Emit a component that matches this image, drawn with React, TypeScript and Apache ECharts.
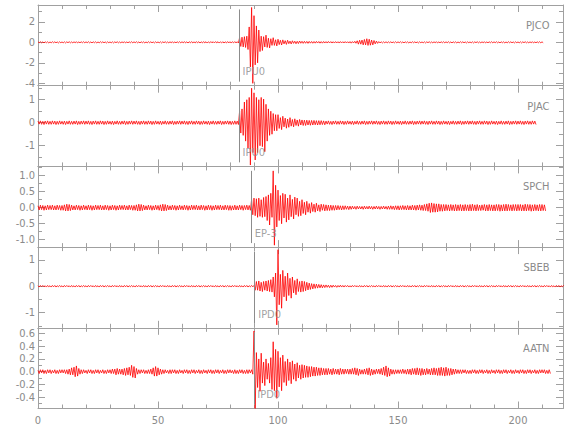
import React, { useEffect, useRef } from "react";
import * as echarts from "echarts";

// ---------- data (samples every 0.5 s, read from the record) ----------
const STATIONS = ["PJCO", "PJAC", "SPCH", "SBEB", "AATN"];
const SAMPLE_STEP = 0.5; // seconds between samples

const PJCO = [
  0.05, -0.04, 0.06, -0.05, 0.04, -0.06, 0.05, -0.04, 0.05, -0.06, 0.04, -0.05, 0.06, -0.04, 0.05, -0.05, 0.04, -0.06, 0.05, -0.04,
  0.04, -0.05, 0.05, -0.06, 0.05, -0.04, 0.06, -0.05, 0.04, -0.05, 0.05, -0.04, 0.06, -0.06, 0.04, -0.05, 0.05, -0.04, 0.06, -0.05,
  0.05, -0.04, 0.06, -0.05, 0.04, -0.06, 0.05, -0.04, 0.05, -0.06, 0.04, -0.05, 0.06, -0.04, 0.05, -0.05, 0.04, -0.06, 0.05, -0.04,
  0.04, -0.05, 0.05, -0.06, 0.05, -0.04, 0.06, -0.05, 0.04, -0.05, 0.05, -0.04, 0.06, -0.06, 0.04, -0.05, 0.05, -0.04, 0.06, -0.05,
  0.05, -0.04, 0.06, -0.05, 0.04, -0.06, 0.05, -0.04, 0.05, -0.06, 0.04, -0.05, 0.06, -0.04, 0.05, -0.05, 0.04, -0.06, 0.05, -0.04,
  0.04, -0.05, 0.05, -0.06, 0.05, -0.04, 0.06, -0.05, 0.04, -0.05, 0.05, -0.04, 0.06, -0.06, 0.04, -0.05, 0.05, -0.04, 0.06, -0.05,
  0.06, -0.05, 0.07, -0.06, 0.05, -0.07, 0.06, -0.05, 0.07, -0.06, 0.05, -0.06, 0.07, -0.05, 0.06, -0.07, 0.05, -0.06, 0.07, -0.05,
  0.06, -0.07, 0.05, -0.06, 0.07, -0.05, 0.06, -0.06, 0.07, -0.05, 0.06, -0.07, 0.05, -0.06, 0.06, -0.07, 0.05, -0.06, 0.07, -0.06,
  0.06, -0.07, 0.06, -0.05, 0.07, -0.06, 0.06, -0.07, 0.45, -0.4, 0.5, -0.45, 0.55, -0.5, 0.6, -0.7, 1.5, -2.4, 3.4, -4.0,
  2.6, -2.2, 1.6, -2.0, 1.2, -0.9, 0.6, -0.8, 0.55, -0.45, 0.7, -0.5, 0.4, -0.55, 0.35, -0.3, 0.45, -0.3, 0.25, -0.35,
  0.3, -0.22, 0.2, -0.26, 0.24, -0.15, 0.16, -0.2, 0.2, -0.13, 0.12, -0.16, 0.15, -0.1, 0.11, -0.14, 0.1, -0.12, 0.13, -0.09,
  0.1, -0.1, 0.1, -0.09, 0.09, -0.1, 0.09, -0.08, 0.08, -0.09, 0.08, -0.08, 0.09, -0.07, 0.08, -0.08, 0.07, -0.08, 0.08, -0.07,
  0.07, -0.07, 0.08, -0.06, 0.07, -0.07, 0.06, -0.07, 0.07, -0.06, 0.06, -0.07, 0.07, -0.06, 0.06, -0.06, 0.07, -0.06, 0.06, -0.07,
  0.07, -0.08, 0.07, -0.06, 0.1, -0.09, 0.15, -0.18, 0.2, -0.18, 0.22, -0.25, 0.28, -0.25, 0.35, -0.3, 0.3, -0.28, 0.22, -0.25,
  0.18, -0.15, 0.12, -0.1, 0.07, -0.06, 0.05, -0.06, 0.05, -0.05, 0.06, -0.05, 0.05, -0.04, 0.05, -0.05, 0.04, -0.05, 0.06, -0.05,
  0.05, -0.04, 0.06, -0.05, 0.04, -0.06, 0.05, -0.04, 0.05, -0.06, 0.04, -0.05, 0.06, -0.04, 0.05, -0.05, 0.04, -0.06, 0.05, -0.04,
  0.04, -0.05, 0.05, -0.06, 0.05, -0.04, 0.06, -0.05, 0.04, -0.05, 0.05, -0.04, 0.06, -0.06, 0.04, -0.05, 0.05, -0.04, 0.06, -0.05,
  0.05, -0.04, 0.06, -0.05, 0.04, -0.06, 0.05, -0.04, 0.05, -0.06, 0.04, -0.05, 0.06, -0.04, 0.05, -0.05, 0.04, -0.06, 0.05, -0.04,
  0.04, -0.05, 0.05, -0.06, 0.05, -0.04, 0.06, -0.05, 0.04, -0.05, 0.05, -0.04, 0.06, -0.06, 0.04, -0.05, 0.05, -0.04, 0.06, -0.05,
  0.05, -0.04, 0.06, -0.05, 0.04, -0.06, 0.05, -0.04, 0.05, -0.06, 0.04, -0.05, 0.06, -0.04, 0.05, -0.05, 0.04, -0.06, 0.05, -0.04,
  0.04, -0.05, 0.05, -0.06, 0.05, -0.04, 0.06, -0.05, 0.04, -0.05, 0.05, -0.04, 0.06, -0.06, 0.04, -0.05, 0.05, -0.04, 0.06, -0.05,
  0.05, -0.04,
];

const PJAC = [
  0.07, -0.06, 0.08, -0.07, 0.06, -0.08, 0.07, -0.06, 0.08, -0.07, 0.06, -0.07, 0.08, -0.06, 0.07, -0.08, 0.06, -0.07, 0.08, -0.06,
  0.06, -0.07, 0.07, -0.08, 0.06, -0.06, 0.08, -0.07, 0.06, -0.07, 0.07, -0.06, 0.08, -0.08, 0.06, -0.07, 0.07, -0.06, 0.08, -0.07,
  0.07, -0.06, 0.08, -0.07, 0.06, -0.08, 0.07, -0.06, 0.08, -0.07, 0.06, -0.07, 0.08, -0.06, 0.07, -0.08, 0.06, -0.07, 0.08, -0.06,
  0.06, -0.07, 0.07, -0.08, 0.06, -0.06, 0.08, -0.07, 0.06, -0.07, 0.07, -0.06, 0.08, -0.08, 0.06, -0.07, 0.07, -0.06, 0.08, -0.07,
  0.07, -0.06, 0.08, -0.07, 0.06, -0.08, 0.07, -0.06, 0.08, -0.07, 0.06, -0.07, 0.08, -0.06, 0.07, -0.08, 0.06, -0.07, 0.08, -0.06,
  0.06, -0.07, 0.07, -0.08, 0.06, -0.06, 0.08, -0.07, 0.06, -0.07, 0.07, -0.06, 0.08, -0.08, 0.06, -0.07, 0.07, -0.06, 0.08, -0.07,
  0.07, -0.06, 0.08, -0.07, 0.06, -0.08, 0.07, -0.06, 0.08, -0.07, 0.06, -0.07, 0.08, -0.06, 0.07, -0.08, 0.06, -0.07, 0.08, -0.06,
  0.06, -0.07, 0.07, -0.08, 0.06, -0.06, 0.08, -0.07, 0.06, -0.07, 0.07, -0.06, 0.08, -0.08, 0.06, -0.07, 0.07, -0.06, 0.08, -0.07,
  0.07, -0.08, 0.06, -0.07, 0.08, -0.07, 0.07, -0.08, 0.5, -0.45, 0.6, -0.55, 0.9, -0.8, 1.0, -1.1, 1.1, -1.84, 1.5, -1.3,
  1.3, -1.62, 1.1, -1.3, 1.0, -1.0, 1.1, -1.04, 1.03, -1.26, 0.8, -0.8, 0.6, -0.55, 0.5, -0.5, 0.4, -0.35, 0.35, -0.35,
  0.35, -0.25, 0.22, -0.3, 0.28, -0.18, 0.2, -0.24, 0.16, -0.2, 0.22, -0.15, 0.14, -0.18, 0.17, -0.12, 0.12, -0.15, 0.14, -0.1,
  0.12, -0.12, 0.11, -0.12, 0.11, -0.1, 0.1, -0.11, 0.1, -0.1, 0.1, -0.09, 0.09, -0.1, 0.09, -0.09, 0.09, -0.08, 0.08, -0.09,
  0.07, -0.06, 0.08, -0.07, 0.06, -0.08, 0.07, -0.06, 0.08, -0.07, 0.06, -0.07, 0.08, -0.06, 0.07, -0.08, 0.06, -0.07, 0.08, -0.06,
  0.06, -0.07, 0.07, -0.08, 0.06, -0.06, 0.08, -0.07, 0.06, -0.07, 0.07, -0.06, 0.08, -0.08, 0.06, -0.07, 0.07, -0.06, 0.08, -0.07,
  0.07, -0.06, 0.08, -0.07, 0.06, -0.08, 0.07, -0.06, 0.08, -0.07, 0.06, -0.07, 0.08, -0.06, 0.07, -0.08, 0.06, -0.07, 0.08, -0.06,
  0.06, -0.07, 0.07, -0.08, 0.06, -0.06, 0.08, -0.07, 0.06, -0.07, 0.07, -0.06, 0.08, -0.08, 0.06, -0.07, 0.07, -0.06, 0.08, -0.07,
  0.07, -0.06, 0.08, -0.07, 0.06, -0.08, 0.07, -0.06, 0.08, -0.07, 0.06, -0.07, 0.08, -0.06, 0.07, -0.08, 0.06, -0.07, 0.08, -0.06,
  0.06, -0.07, 0.07, -0.08, 0.06, -0.06, 0.08, -0.07, 0.06, -0.07, 0.07, -0.06, 0.08, -0.08, 0.06, -0.07, 0.07, -0.06, 0.08, -0.07,
  0.07, -0.06, 0.08, -0.07, 0.06, -0.08, 0.07, -0.06, 0.08, -0.07, 0.06, -0.07, 0.08, -0.06, 0.07, -0.08, 0.06, -0.07, 0.08, -0.06,
  0.06, -0.07, 0.07, -0.08, 0.06, -0.06, 0.08, -0.07, 0.06, -0.07, 0.07, -0.06, 0.08, -0.08, 0.06, -0.07, 0.07, -0.06, 0.08, -0.07,
  0.07, -0.06, 0.08, -0.07, 0.06, -0.08, 0.07, -0.06, 0.08, -0.07, 0.06, -0.07, 0.08, -0.06, 0.07, -0.08,
];

const SPCH = [
  0.06, -0.07, 0.08, -0.06, 0.07, -0.08, 0.06, -0.07, 0.08, -0.06, 0.07, -0.06, 0.08, -0.07, 0.06, -0.07, 0.08, -0.06, 0.07, -0.08,
  0.07, -0.08, 0.09, -0.1, 0.11, -0.1, 0.1, -0.09, 0.08, -0.07, 0.06, -0.07, 0.08, -0.06, 0.07, -0.08, 0.06, -0.07, 0.08, -0.06,
  0.06, -0.07, 0.08, -0.06, 0.07, -0.08, 0.06, -0.07, 0.08, -0.06, 0.07, -0.06, 0.08, -0.07, 0.06, -0.07, 0.08, -0.06, 0.07, -0.08,
  0.06, -0.07, 0.08, -0.06, 0.07, -0.08, 0.06, -0.07, 0.08, -0.06, 0.07, -0.06, 0.08, -0.07, 0.06, -0.07, 0.08, -0.06, 0.07, -0.08,
  0.07, -0.08, 0.09, -0.1, 0.11, -0.1, 0.1, -0.09, 0.08, -0.07, 0.06, -0.07, 0.08, -0.06, 0.07, -0.08, 0.06, -0.07, 0.08, -0.06,
  0.07, -0.08, 0.09, -0.1, 0.11, -0.1, 0.1, -0.09, 0.08, -0.07, 0.06, -0.07, 0.08, -0.06, 0.07, -0.08, 0.06, -0.07, 0.08, -0.06,
  0.06, -0.07, 0.08, -0.06, 0.07, -0.08, 0.06, -0.07, 0.08, -0.06, 0.07, -0.06, 0.08, -0.07, 0.06, -0.07, 0.08, -0.06, 0.07, -0.08,
  0.06, -0.07, 0.08, -0.06, 0.07, -0.08, 0.06, -0.07, 0.08, -0.06, 0.07, -0.06, 0.08, -0.07, 0.06, -0.07, 0.08, -0.06, 0.07, -0.08,
  0.07, -0.08, 0.06, -0.07, 0.08, -0.07, 0.06, -0.07, 0.08, -0.06, 0.07, -0.08, 0.07, -0.06, 0.08, -0.07, 0.07, -0.08, 0.25, -0.22,
  0.3, -0.25, 0.28, -0.3, 0.3, -0.27, 0.25, -0.3, 0.32, -0.28, 0.35, -0.4, 0.4, -0.54, 0.45, -0.3, 1.15, -1.17, 0.7, -0.6,
  0.55, -0.4, 0.38, -0.5, 0.45, -0.32, 0.42, -0.45, 0.3, -0.38, 0.4, -0.28, 0.26, -0.35, 0.33, -0.22, 0.3, -0.27, 0.2, -0.25,
  0.25, -0.18, 0.17, -0.22, 0.2, -0.14, 0.13, -0.17, 0.16, -0.12, 0.11, -0.14, 0.14, -0.1, 0.09, -0.12, 0.11, -0.08, 0.1, -0.1,
  0.09, -0.09, 0.08, -0.09, 0.08, -0.08, 0.07, -0.08, 0.07, -0.07, 0.07, -0.06, 0.06, -0.07, 0.06, -0.06, 0.06, -0.05, 0.05, -0.06,
  0.05, -0.05, 0.05, -0.04, 0.04, -0.05, 0.05, -0.04, 0.04, -0.04, 0.04, -0.05, 0.05, -0.04, 0.04, -0.04, 0.05, -0.04, 0.04, -0.05,
  0.04, -0.04, 0.05, -0.04, 0.04, -0.05, 0.04, -0.04, 0.05, -0.04, 0.04, -0.05, 0.05, -0.05, 0.06, -0.05, 0.05, -0.06, 0.06, -0.06,
  0.06, -0.07, 0.06, -0.06, 0.07, -0.06, 0.06, -0.07, 0.07, -0.07, 0.06, -0.07, 0.08, -0.07, 0.07, -0.08, 0.08, -0.07, 0.09, -0.08,
  0.08, -0.09, 0.1, -0.09, 0.12, -0.11, 0.14, -0.15, 0.15, -0.14, 0.13, -0.14, 0.12, -0.13, 0.12, -0.11, 0.1, -0.11, 0.1, -0.1,
  0.1, -0.09, 0.09, -0.1, 0.1, -0.09, 0.09, -0.1, 0.1, -0.1, 0.09, -0.09, 0.1, -0.1, 0.09, -0.1, 0.1, -0.09, 0.09, -0.1,
  0.1, -0.1, 0.11, -0.09, 0.09, -0.1, 0.1, -0.09, 0.08, -0.09, 0.09, -0.08, 0.1, -0.1, 0.09, -0.1, 0.1, -0.09, 0.09, -0.1,
  0.09, -0.1, 0.1, -0.09, 0.1, -0.11, 0.09, -0.1, 0.1, -0.1, 0.11, -0.1, 0.1, -0.09, 0.09, -0.1, 0.1, -0.09, 0.1, -0.1,
  0.1, -0.09, 0.1, -0.1, 0.09, -0.1, 0.11, -0.1, 0.1, -0.09, 0.1, -0.11, 0.09, -0.1, 0.1, -0.09, 0.09, -0.1, 0.1, -0.1,
  0.1, -0.09, 0.09, -0.1,
];

const SBEB = [
  0.02, -0.03, 0.03, -0.02, 0.03, -0.02, 0.02, -0.03, 0.03, -0.02, 0.02, -0.03, 0.03, -0.02, 0.03, -0.03, 0.02, -0.02, 0.03, -0.02,
  0.02, -0.03, 0.03, -0.02, 0.03, -0.02, 0.02, -0.03, 0.03, -0.02, 0.02, -0.03, 0.03, -0.02, 0.03, -0.03, 0.02, -0.02, 0.03, -0.02,
  0.02, -0.03, 0.03, -0.02, 0.03, -0.02, 0.02, -0.03, 0.03, -0.02, 0.02, -0.03, 0.03, -0.02, 0.03, -0.03, 0.02, -0.02, 0.03, -0.02,
  0.02, -0.03, 0.03, -0.02, 0.03, -0.02, 0.02, -0.03, 0.03, -0.02, 0.02, -0.03, 0.03, -0.02, 0.03, -0.03, 0.02, -0.02, 0.03, -0.02,
  0.02, -0.03, 0.03, -0.02, 0.03, -0.02, 0.02, -0.03, 0.03, -0.02, 0.02, -0.03, 0.03, -0.02, 0.03, -0.03, 0.02, -0.02, 0.03, -0.02,
  0.02, -0.03, 0.03, -0.02, 0.03, -0.02, 0.02, -0.03, 0.03, -0.02, 0.02, -0.03, 0.03, -0.02, 0.03, -0.03, 0.02, -0.02, 0.03, -0.02,
  0.02, -0.03, 0.03, -0.02, 0.03, -0.02, 0.02, -0.03, 0.03, -0.02, 0.02, -0.03, 0.03, -0.02, 0.03, -0.03, 0.02, -0.02, 0.03, -0.02,
  0.02, -0.03, 0.03, -0.02, 0.03, -0.02, 0.02, -0.03, 0.03, -0.02, 0.02, -0.03, 0.03, -0.02, 0.03, -0.03, 0.02, -0.02, 0.03, -0.02,
  0.02, -0.03, 0.03, -0.02, 0.03, -0.02, 0.02, -0.03, 0.03, -0.02, 0.02, -0.03, 0.03, -0.02, 0.03, -0.03, 0.02, -0.02, 0.03, -0.02,
  0.03, -0.15, 0.18, -0.15, 0.2, -0.18, 0.15, -0.2, 0.18, -0.15, 0.2, -0.18, 0.22, -0.2, 0.25, -0.22, 0.35, -0.4, 0.5, -1.46,
  1.38, -0.7, 0.45, -0.83, 0.6, -0.4, 0.38, -0.55, 0.5, -0.35, 0.3, -0.45, 0.35, -0.25, 0.22, -0.32, 0.28, -0.2, 0.18, -0.22,
  0.2, -0.2, 0.18, -0.17, 0.15, -0.14, 0.12, -0.12, 0.1, -0.1, 0.09, -0.08, 0.08, -0.07, 0.07, -0.06, 0.06, -0.06, 0.05, -0.05,
  0.05, -0.04, 0.04, -0.05, 0.04, -0.04, 0.04, -0.03, 0.03, -0.04, 0.03, -0.03, 0.04, -0.03, 0.03, -0.03, 0.03, -0.02, 0.03, -0.03,
  0.02, -0.03, 0.03, -0.02, 0.03, -0.02, 0.02, -0.03, 0.03, -0.02, 0.02, -0.03, 0.03, -0.02, 0.03, -0.03, 0.02, -0.02, 0.03, -0.02,
  0.02, -0.03, 0.03, -0.02, 0.03, -0.02, 0.02, -0.03, 0.03, -0.02, 0.02, -0.03, 0.03, -0.02, 0.03, -0.03, 0.02, -0.02, 0.03, -0.02,
  0.02, -0.03, 0.03, -0.02, 0.03, -0.02, 0.02, -0.03, 0.03, -0.02, 0.02, -0.03, 0.03, -0.02, 0.03, -0.03, 0.02, -0.02, 0.03, -0.02,
  0.02, -0.03, 0.03, -0.02, 0.03, -0.02, 0.02, -0.03, 0.03, -0.02, 0.02, -0.03, 0.03, -0.02, 0.03, -0.03, 0.02, -0.02, 0.03, -0.02,
  0.02, -0.03, 0.03, -0.02, 0.03, -0.02, 0.02, -0.03, 0.03, -0.02, 0.02, -0.03, 0.03, -0.02, 0.03, -0.03, 0.02, -0.02, 0.03, -0.02,
  0.02, -0.03, 0.03, -0.02, 0.03, -0.02, 0.02, -0.03, 0.03, -0.02, 0.02, -0.03, 0.03, -0.02, 0.03, -0.03, 0.02, -0.02, 0.03, -0.02,
  0.02, -0.03, 0.03, -0.02, 0.03, -0.02, 0.02, -0.03, 0.03, -0.02, 0.02, -0.03, 0.03, -0.02, 0.03, -0.03, 0.02, -0.02, 0.03, -0.02,
  0.02, -0.03, 0.03, -0.02, 0.03, -0.02, 0.02, -0.03, 0.03, -0.02, 0.02, -0.03, 0.03, -0.02, 0.03, -0.03, 0.02, -0.02, 0.03, -0.02,
  0.02, -0.03, 0.03, -0.02, 0.03, -0.02, 0.02, -0.03, 0.03, -0.02, 0.02, -0.03, 0.03, -0.02, 0.03, -0.03, 0.02, -0.02, 0.03, -0.02,
];

const AATN = [
  0.02, -0.03, 0.03, -0.02, 0.03, -0.03, 0.02, -0.03, 0.03, -0.02, 0.03, -0.03, 0.02, -0.02, 0.03, -0.03, 0.02, -0.03, 0.03, -0.02,
  0.03, -0.02, 0.03, -0.03, 0.03, -0.04, 0.04, -0.05, 0.06, -0.05, 0.07, -0.08, 0.09, -0.07, 0.05, -0.04, 0.03, -0.03, 0.03, -0.02,
  0.02, -0.03, 0.03, -0.02, 0.03, -0.03, 0.02, -0.03, 0.03, -0.02, 0.03, -0.03, 0.02, -0.02, 0.03, -0.03, 0.02, -0.03, 0.03, -0.02,
  0.03, -0.03, 0.04, -0.03, 0.04, -0.05, 0.05, -0.04, 0.04, -0.04, 0.04, -0.05, 0.05, -0.06, 0.06, -0.05, 0.07, -0.06, 0.1, -0.09,
  0.08, -0.1, 0.05, -0.04, 0.03, -0.03, 0.03, -0.02, 0.03, -0.03, 0.02, -0.03, 0.03, -0.03, 0.04, -0.04, 0.06, -0.07, 0.08, -0.07,
  0.06, -0.05, 0.04, -0.04, 0.03, -0.03, 0.03, -0.02, 0.02, -0.03, 0.03, -0.03, 0.03, -0.02, 0.03, -0.03, 0.02, -0.03, 0.03, -0.02,
  0.02, -0.03, 0.03, -0.02, 0.03, -0.03, 0.02, -0.03, 0.03, -0.02, 0.03, -0.03, 0.02, -0.02, 0.03, -0.03, 0.02, -0.03, 0.03, -0.02,
  0.02, -0.03, 0.03, -0.02, 0.03, -0.03, 0.02, -0.03, 0.03, -0.02, 0.03, -0.03, 0.02, -0.02, 0.03, -0.03, 0.02, -0.03, 0.03, -0.02,
  0.03, -0.02, 0.02, -0.03, 0.03, -0.03, 0.02, -0.03, 0.03, -0.02, 0.03, -0.03, 0.02, -0.03, 0.03, -0.03, 0.03, -0.02, 0.03, -0.04,
  0.64, -0.58, 0.3, -0.25, 0.2, -0.31, 0.29, -0.18, 0.15, -0.22, 0.2, -0.12, 0.13, -0.18, 0.22, -0.28, 0.47, -0.3, 0.35, -0.42,
  0.32, -0.24, 0.22, -0.3, 0.26, -0.17, 0.16, -0.22, 0.2, -0.14, 0.15, -0.19, 0.17, -0.12, 0.12, -0.15, 0.14, -0.1, 0.1, -0.12,
  0.11, -0.1, 0.1, -0.09, 0.09, -0.09, 0.08, -0.08, 0.08, -0.07, 0.07, -0.07, 0.07, -0.06, 0.06, -0.06, 0.06, -0.05, 0.05, -0.05,
  0.05, -0.05, 0.05, -0.04, 0.04, -0.05, 0.05, -0.04, 0.04, -0.04, 0.04, -0.05, 0.05, -0.04, 0.04, -0.04, 0.04, -0.03, 0.04, -0.04,
  0.04, -0.04, 0.05, -0.04, 0.06, -0.05, 0.05, -0.06, 0.04, -0.04, 0.03, -0.04, 0.04, -0.04, 0.05, -0.05, 0.06, -0.06, 0.04, -0.05,
  0.03, -0.04, 0.04, -0.03, 0.04, -0.04, 0.05, -0.05, 0.07, -0.06, 0.09, -0.08, 0.06, -0.07, 0.04, -0.04, 0.03, -0.04, 0.03, -0.03,
  0.03, -0.03, 0.03, -0.03, 0.04, -0.03, 0.03, -0.04, 0.04, -0.04, 0.04, -0.05, 0.05, -0.04, 0.05, -0.05, 0.06, -0.05, 0.05, -0.06,
  0.05, -0.05, 0.04, -0.05, 0.05, -0.04, 0.04, -0.05, 0.05, -0.05, 0.06, -0.05, 0.05, -0.06, 0.06, -0.06, 0.07, -0.06, 0.06, -0.07,
  0.07, -0.06, 0.05, -0.06, 0.05, -0.05, 0.04, -0.04, 0.04, -0.03, 0.03, -0.03, 0.03, -0.03, 0.03, -0.02, 0.03, -0.03, 0.02, -0.03,
  0.02, -0.03, 0.03, -0.02, 0.03, -0.03, 0.02, -0.03, 0.03, -0.02, 0.03, -0.03, 0.02, -0.02, 0.03, -0.03, 0.02, -0.03, 0.03, -0.02,
  0.02, -0.03, 0.03, -0.02, 0.03, -0.03, 0.02, -0.03, 0.03, -0.02, 0.03, -0.03, 0.02, -0.02, 0.03, -0.03, 0.02, -0.03, 0.03, -0.02,
  0.02, -0.03, 0.03, -0.02, 0.03, -0.03, 0.02, -0.03, 0.03, -0.02, 0.03, -0.03, 0.02, -0.02, 0.03, -0.03, 0.02, -0.03, 0.03, -0.02,
  0.03, -0.02, 0.03, -0.03, 0.02, -0.03, 0.03, -0.03,
];

const TRACES = [PJCO, PJAC, SPCH, SBEB, AATN];
const PICK_TIMES = [83.75, 83.75, 88.9, 90.3, 89.9];
const PICK_LABELS = ["IPU0", "IPU0", "EP-3", "IPD0", "IPD0"];

const Y_MIN = [-4.23, -1.9, -1.23, -1.57, -0.58];
const Y_MAX = [3.64, 1.61, 1.29, 1.48, 0.69];
const Y_MAJOR = [
  [-4, -2, 0, 2],
  [-1, 0, 1],
  [-1, -0.5, 0, 0.5, 1],
  [-1, 0, 1],
  [-0.4, -0.2, 0, 0.2, 0.4, 0.6],
];
const Y_MINOR = [
  [-3, -1, 1, 3],
  [-1.5, -0.5, 0.5, 1.5],
  [-0.75, -0.25, 0.25, 0.75, 1.25],
  [-1.5, -0.5, 0.5],
  [-0.5, -0.3, -0.1, 0.1, 0.3, 0.5],
];
const Y_DECIMALS = [0, 0, 1, 0, 1];

const X_MIN = 0;
const X_MAX = 218.75;
const X_MAJOR = [0, 50, 100, 150, 200];
const X_MINOR = [10, 20, 30, 40, 60, 70, 80, 90, 110, 120, 130, 140, 160, 170, 180, 190, 210];

// ---------- styling / layout ----------
const AXIS_COLOR = "#a0a0a0";
const TEXT_COLOR = "#8a8a8a";
const TRACE_COLOR = "#ff0000";
const PICK_COLOR = "#8c8c8c";
const FONT = "'Liberation Sans Narrow', 'DejaVu Sans Condensed', 'Liberation Sans', sans-serif";
const GRID_LEFT = 38;
const GRID_WIDTH = 525;
const GRID_TOP = 5;
const PANEL_H = 80.7;
const MAJOR_LEN = 7;
const MINOR_LEN = 4;

function buildOption() {
  const grids: any[] = [];
  const xAxes: any[] = [];
  const yAxes: any[] = [];
  const series: any[] = [];
  const graphics: any[] = [];
  const n = STATIONS.length;

  for (let g = 0; g < n; g++) {
    const top = GRID_TOP + g * PANEL_H;
    grids.push({ left: GRID_LEFT, top, width: GRID_WIDTH, height: PANEL_H, containLabel: false });

    const isBottom = g === n - 1;
    const xBase = (pos: string, ticks: number[], len: number, line: boolean, labels: boolean) => ({
      type: "value",
      gridIndex: g,
      position: pos,
      min: X_MIN,
      max: X_MAX,
      axisLine: { show: line, onZero: false, lineStyle: { color: AXIS_COLOR, width: 1 } },
      axisTick: { show: true, inside: true, length: len, customValues: ticks, lineStyle: { color: AXIS_COLOR, width: 1 } },
      axisLabel: labels
        ? { show: true, customValues: X_MAJOR, color: TEXT_COLOR, fontSize: 11, fontFamily: FONT, margin: 6 }
        : { show: false },
      splitLine: { show: false },
    });
    xAxes.push(xBase("bottom", X_MAJOR, MAJOR_LEN, true, isBottom));
    xAxes.push(xBase("bottom", X_MINOR, MINOR_LEN, false, false));
    xAxes.push(xBase("top", X_MAJOR, MAJOR_LEN, true, false));
    xAxes.push(xBase("top", X_MINOR, MINOR_LEN, false, false));

    const dec = Y_DECIMALS[g];
    const yBase = (pos: string, ticks: number[], len: number, line: boolean, labels: boolean) => ({
      type: "value",
      gridIndex: g,
      position: pos,
      min: Y_MIN[g],
      max: Y_MAX[g],
      axisLine: { show: line, onZero: false, lineStyle: { color: AXIS_COLOR, width: 1 } },
      axisTick: { show: true, inside: true, length: len, customValues: ticks, lineStyle: { color: AXIS_COLOR, width: 1 } },
      axisLabel: labels
        ? {
            show: true,
            customValues: Y_MAJOR[g],
            color: TEXT_COLOR,
            fontSize: 11,
            fontFamily: FONT,
            margin: 3,
            formatter: (v: number) => v.toFixed(dec),
          }
        : { show: false },
      splitLine: { show: false },
    });
    yAxes.push(yBase("left", Y_MAJOR[g], MAJOR_LEN, true, true));
    yAxes.push(yBase("left", Y_MINOR[g], MINOR_LEN, false, false));
    yAxes.push(yBase("right", Y_MAJOR[g], MAJOR_LEN, true, false));
    yAxes.push(yBase("right", Y_MINOR[g], MINOR_LEN, false, false));

    const span = Y_MAX[g] - Y_MIN[g];
    const pickTop = Y_MAX[g] - 0.055 * span;
    const pickBottom = Y_MIN[g] + 0.05 * span;
    const pickLabelY = Y_MAX[g] - 0.83 * span;

    series.push({
      type: "line",
      name: STATIONS[g],
      xAxisIndex: 4 * g,
      yAxisIndex: 4 * g,
      data: TRACES[g].map((v, i) => [i * SAMPLE_STEP, v]),
      showSymbol: false,
      symbol: "none",
      silent: true,
      lineStyle: { color: TRACE_COLOR, width: 0.8 },
      z: 3,
      markLine: {
        silent: true,
        symbol: ["none", "none"],
        label: { show: false },
        lineStyle: { color: PICK_COLOR, width: 1, type: "solid" },
        data: [[{ coord: [PICK_TIMES[g], pickTop] }, { coord: [PICK_TIMES[g], pickBottom] }]],
      },
    });
    series.push({
      type: "scatter",
      xAxisIndex: 4 * g,
      yAxisIndex: 4 * g,
      data: [[PICK_TIMES[g], pickLabelY]],
      symbolSize: 1,
      silent: true,
      itemStyle: { color: "transparent" },
      label: {
        show: true,
        position: "right",
        distance: 3,
        formatter: PICK_LABELS[g],
        color: TEXT_COLOR,
        fontSize: 11,
        fontFamily: FONT,
      },
      z: 4,
    });

    graphics.push({
      type: "text",
      x: GRID_LEFT + GRID_WIDTH - 13.5,
      y: top + 20.5,
      style: {
        text: STATIONS[g],
        fill: TEXT_COLOR,
        fontSize: 11,
        fontFamily: FONT,
        align: "right",
        verticalAlign: "middle",
      },
    });
  }

  return {
    animation: false,
    backgroundColor: "#ffffff",
    grid: grids,
    xAxis: xAxes,
    yAxis: yAxes,
    series,
    graphic: graphics,
  };
}

export default function App() {
  const ref = useRef<HTMLDivElement>(null);
  useEffect(() => {
    if (!ref.current) return;
    const chart = echarts.init(ref.current, undefined, { renderer: "svg" });
    chart.setOption(buildOption() as any);
    return () => chart.dispose();
  }, []);
  return (
    <div
      ref={ref}
      style={{ position: "fixed", left: 0, top: 0, width: 580, height: 440, background: "#fff" }}
    />
  );
}
